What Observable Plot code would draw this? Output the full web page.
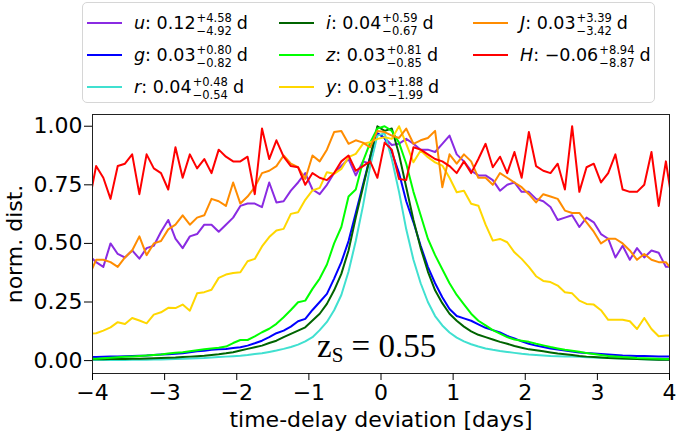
<!DOCTYPE html>
<html>
<head>
<meta charset="utf-8">
<script src="https://cdn.jsdelivr.net/npm/d3@7"></script>
<script src="https://cdn.jsdelivr.net/npm/@observablehq/plot@0.6"></script>
<style>
  html, body { margin: 0; padding: 0; background: #fff; }
  #wrap { width: 676px; font-family: "DejaVu Sans", sans-serif; }
  #legend { position: relative; width: 676px; height: 108px; }
  #legend .box { position: absolute; left: 82px; top: 2px; width: 573px; height: 101px;
    border: 1px solid #d6d6d6; border-radius: 5px; box-sizing: border-box; }
  #legend .entry { position: absolute; height: 32px; display: flex; align-items: center;
    white-space: nowrap; font-size: 17.5px; color: #000; }
  #legend .sw { display: inline-block; width: 35px; height: 2px; margin-right: 12px; }
  #legend .ss { display: inline-flex; flex-direction: column; font-size: 11.5px; line-height: 12.5px;
    margin-left: 1px; margin-top: 3px; }
  #legend .dd { margin-left: 5px; }
  svg { display: block; }
</style>
</head>
<body>
<div id="wrap">
  <div id="legend"><div class="box"></div></div>
  <div id="chart"></div>
</div>
<script>
// bin centres [days]
const days = [-4.05,-3.95,-3.85,-3.75,-3.65,-3.55,-3.45,-3.35,-3.25,-3.15,-3.05,-2.95,-2.85,-2.75,-2.65,-2.55,-2.45,-2.35,-2.25,-2.15,-2.05,-1.95,-1.85,-1.75,-1.65,-1.55,-1.45,-1.35,-1.25,-1.15,-1.05,-0.95,-0.85,-0.75,-0.65,-0.55,-0.45,-0.35,-0.25,-0.15,-0.05,
  0.05,0.15,0.25,0.35,0.45,0.55,0.65,0.75,0.85,0.95,1.05,1.15,1.25,1.35,1.45,1.55,1.65,1.75,1.85,1.95,2.05,2.15,2.25,2.35,2.45,2.55,2.65,2.75,2.85,2.95,3.05,3.15,3.25,3.35,3.45,3.55,3.65,3.75,3.85,3.95,4.05];

const bands  = ["u", "g", "r", "i", "z", "y", "J", "H"];
const colors = ["#8a2be2", "#0000ff", "#40e0d0", "#006400", "#00ff00", "#ffd700", "#ff8c00", "#ff0000"];
const medians = [0.12, 0.03, 0.04, 0.04, 0.03, 0.03, 0.03, -0.06];
const errPlus  = [4.58, 0.80, 0.48, 0.59, 0.81, 1.88, 3.39, 8.94];
const errMinus = [4.92, 0.82, 0.54, 0.67, 0.85, 1.99, 3.42, 8.87];

const uVals = [0.45,0.42,0.40,0.50,0.455,0.44,0.47,0.435,0.48,0.49,0.55,0.60,0.52,0.48,0.53,0.54,0.58,0.58,0.55,0.58,0.61,0.66,0.67,0.67,0.655,0.76,0.675,0.68,0.725,0.76,0.80,0.73,0.71,0.75,0.80,0.83,0.86,0.79,0.85,0.84,0.97,
  0.95,0.92,0.925,0.946,0.925,0.90,0.90,0.89,0.925,0.96,0.88,0.85,0.81,0.79,0.79,0.77,0.725,0.75,0.76,0.72,0.72,0.69,0.68,0.655,0.60,0.61,0.62,0.57,0.61,0.59,0.54,0.52,0.44,0.49,0.43,0.48,0.44,0.47,0.46,0.40,0.40];
const gVals = [0.015,0.015,0.016,0.017,0.018,0.019,0.020,0.021,0.022,0.024,0.026,0.027,0.029,0.031,0.036,0.040,0.042,0.046,0.048,0.050,0.054,0.057,0.064,0.074,0.085,0.100,0.117,0.128,0.145,0.168,0.178,0.216,0.25,0.285,0.35,0.42,0.51,0.63,0.75,0.87,0.97,
  0.95,0.89,0.80,0.68,0.59,0.49,0.40,0.33,0.27,0.22,0.19,0.18,0.17,0.155,0.14,0.13,0.12,0.105,0.095,0.082,0.072,0.064,0.058,0.052,0.047,0.043,0.039,0.035,0.032,0.030,0.028,0.026,0.024,0.022,0.021,0.020,0.020,0.019,0.018,0.018,0.018];
const rVals = [0.003,0.003,0.003,0.003,0.003,0.003,0.004,0.004,0.004,0.005,0.005,0.006,0.007,0.008,0.009,0.010,0.011,0.013,0.015,0.017,0.019,0.021,0.024,0.028,0.031,0.037,0.043,0.050,0.058,0.068,0.082,0.10,0.13,0.165,0.215,0.28,0.38,0.51,0.66,0.83,0.96,
  0.97,0.86,0.72,0.56,0.43,0.33,0.25,0.19,0.15,0.12,0.098,0.082,0.070,0.060,0.052,0.046,0.041,0.037,0.033,0.029,0.026,0.024,0.022,0.020,0.019,0.018,0.017,0.016,0.014,0.013,0.012,0.011,0.010,0.009,0.008,0.007,0.006,0.005,0.004,0.004,0.004];
const iVals = [0.006,0.006,0.006,0.007,0.007,0.007,0.008,0.008,0.009,0.010,0.011,0.012,0.013,0.015,0.017,0.019,0.021,0.024,0.027,0.031,0.036,0.043,0.050,0.057,0.064,0.075,0.085,0.10,0.114,0.128,0.142,0.171,0.20,0.242,0.30,0.37,0.47,0.61,0.74,0.87,1.0,
  0.98,0.99,0.88,0.74,0.60,0.48,0.38,0.30,0.245,0.20,0.17,0.145,0.125,0.11,0.10,0.09,0.08,0.072,0.062,0.055,0.048,0.044,0.040,0.035,0.030,0.027,0.024,0.020,0.017,0.015,0.013,0.011,0.010,0.009,0.008,0.007,0.006,0.005,0.004,0.004,0.004];
const zVals = [0.008,0.008,0.010,0.012,0.014,0.016,0.018,0.020,0.022,0.024,0.026,0.030,0.034,0.036,0.040,0.044,0.048,0.052,0.055,0.060,0.075,0.088,0.088,0.103,0.121,0.136,0.157,0.185,0.216,0.249,0.256,0.306,0.35,0.41,0.50,0.57,0.70,0.73,0.85,0.93,0.99,
  1.0,0.98,0.93,0.84,0.72,0.62,0.52,0.45,0.39,0.33,0.28,0.24,0.20,0.17,0.15,0.13,0.115,0.10,0.09,0.085,0.08,0.072,0.065,0.058,0.052,0.046,0.042,0.038,0.032,0.028,0.024,0.020,0.018,0.015,0.013,0.011,0.010,0.009,0.008,0.007,0.007];
const yVals = [0.115,0.117,0.128,0.142,0.164,0.156,0.182,0.171,0.159,0.196,0.206,0.225,0.224,0.239,0.213,0.287,0.292,0.302,0.353,0.367,0.374,0.377,0.424,0.434,0.487,0.527,0.555,0.562,0.626,0.633,0.686,0.726,0.737,0.804,0.797,0.818,0.868,0.882,0.925,0.932,0.946,
  0.953,0.946,1.0,0.925,0.846,0.896,0.868,0.846,0.832,0.78,0.718,0.725,0.669,0.661,0.58,0.512,0.519,0.505,0.462,0.434,0.40,0.36,0.34,0.335,0.32,0.292,0.287,0.256,0.242,0.239,0.215,0.174,0.174,0.174,0.168,0.135,0.182,0.135,0.104,0.107,0.107];
const JVals = [0.36,0.43,0.43,0.42,0.40,0.44,0.47,0.53,0.45,0.50,0.51,0.56,0.58,0.62,0.58,0.61,0.62,0.69,0.68,0.66,0.76,0.67,0.70,0.74,0.80,0.81,0.83,0.875,0.84,0.825,0.775,0.875,0.85,0.90,0.975,0.98,0.925,0.94,0.93,0.91,0.98,
  0.975,0.96,0.95,0.99,0.925,0.94,0.95,0.98,0.74,0.88,0.84,0.88,0.85,0.78,0.78,0.75,0.80,0.78,0.76,0.74,0.71,0.675,0.71,0.70,0.69,0.64,0.63,0.63,0.59,0.55,0.50,0.52,0.52,0.50,0.47,0.43,0.455,0.43,0.42,0.42,0.38];
const HVals = [0.67,0.83,0.78,0.69,0.83,0.84,0.88,0.71,0.88,0.82,0.80,0.73,0.91,0.78,0.88,0.82,0.86,0.80,0.90,0.87,0.85,0.85,0.87,0.71,0.99,0.86,0.94,0.87,0.83,0.825,0.75,0.80,0.78,0.77,0.80,0.85,0.875,0.81,0.83,0.85,0.78,
  0.93,0.90,0.775,0.77,0.91,0.90,0.88,0.86,0.85,0.83,0.80,0.85,0.80,0.86,0.925,0.825,0.87,0.80,0.89,0.78,0.975,0.83,0.81,0.80,0.84,0.73,1.0,0.72,0.825,0.84,0.76,0.80,0.88,0.73,0.72,0.72,0.75,0.89,0.66,0.85,0.65];

const seriesVals = [uVals, gVals, rVals, iVals, zVals, yVals, JVals, HVals];
const annotation = {text: "z", sub: "S", rest: " = 0.55", x: -0.88, y: 0.012};

// rows for the library
const rows = [];
bands.forEach((b, k) => seriesVals[k].forEach((v, j) => rows.push({band: b, d: days[j], v})));

// legend
const fmt = d3.format(".2f");
const colX = [87, 279, 473], rowY = [23, 55, 87];
const legend = document.getElementById("legend");
bands.forEach((b, k) => {
  const e = document.createElement("div");
  e.className = "entry";
  e.style.left = colX[Math.floor(k / 3)] + "px";
  e.style.top = (rowY[k % 3] - 16) + "px";
  e.innerHTML = `<span class="sw" style="background:${colors[k]}"></span>` +
    `<span><i>${b}</i>: ${fmt(medians[k])}</span>` +
    `<span class="ss"><span>+${fmt(errPlus[k])}</span><span>\u2212${fmt(errMinus[k])}</span></span>` +
    `<span class="dd">d</span>`;
  legend.appendChild(e);
});

const plot = Plot.plot({
  width: 676,
  height: 324,
  marginLeft: 92,
  marginRight: 7,
  marginTop: 6,
  marginBottom: 59,
  style: {fontFamily: "DejaVu Sans, sans-serif", fontSize: "22px", color: "#000", background: "#fff"},
  x: {domain: [-4, 4]},
  y: {domain: [-0.055, 1.05]},
  color: {domain: bands, range: colors},
  marks: [
    Plot.line(rows, {x: "d", y: "v", z: "band", stroke: "band", strokeWidth: 2, clip: true}),
    Plot.frame({stroke: "#222", strokeWidth: 1}),
    Plot.axisX({ticks: [-4, -3, -2, -1, 0, 1, 2, 3, 4], tickSize: 7, tickPadding: 4,
      label: "time-delay deviation [days]", labelAnchor: "center", labelArrow: "none", labelOffset: 53}),
    Plot.axisY({ticks: [0, 0.25, 0.5, 0.75, 1], tickFormat: ".2f", tickSize: 8, tickPadding: 2,
      label: "norm. dist.", labelAnchor: "center", labelArrow: "none", labelOffset: 86})
  ]
});
document.getElementById("chart").appendChild(plot);

// annotation placed through the plot's scales
const sx = plot.scale("x"), sy = plot.scale("y");
const t = d3.select(plot).append("text")
  .attr("x", sx.apply(annotation.x))
  .attr("y", sy.apply(annotation.y))
  .attr("text-anchor", "start")
  .attr("font-family", "Liberation Serif, DejaVu Serif, serif")
  .attr("font-size", 33)
  .attr("fill", "#000");
t.append("tspan").text(annotation.text);
t.append("tspan").attr("font-size", 21).attr("dy", 5).text(annotation.sub);
t.append("tspan").attr("dy", -5).text(annotation.rest);
</script>
</body>
</html>
